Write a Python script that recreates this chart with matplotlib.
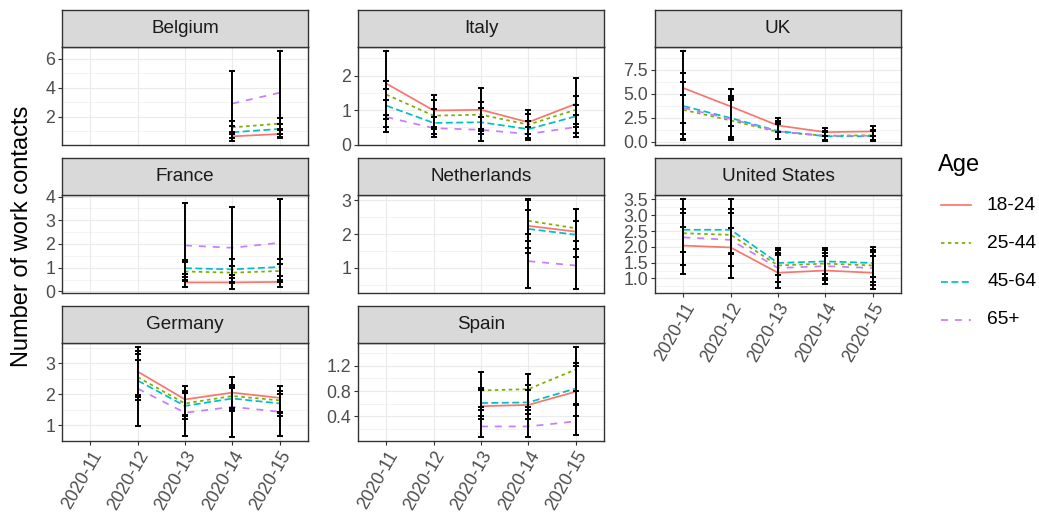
import numpy as np
import matplotlib.pyplot as plt
from matplotlib.ticker import MultipleLocator

plt.rcParams['font.family'] = ['Liberation Sans', 'DejaVu Sans']

nan = np.nan

WEEKS = ['2020-11', '2020-12', '2020-13', '2020-14', '2020-15']
AGES = ['18-24', '25-44', '45-64', '65+']

# rows: age groups, columns: weeks
belgium_mean = [[nan, nan, nan, 0.64, 0.80],
                [nan, nan, nan, 1.26, 1.52],
                [nan, nan, nan, 0.92, 1.15],
                [nan, nan, nan, 2.90, 3.65]]
belgium_lo = [[nan, nan, nan, 0.35, 0.55],
              [nan, nan, nan, 0.80, 1.15],
              [nan, nan, nan, 0.55, 0.80],
              [nan, nan, nan, 0.50, 0.60]]
belgium_hi = [[nan, nan, nan, 0.95, 1.10],
              [nan, nan, nan, 1.68, 1.90],
              [nan, nan, nan, 1.35, 1.50],
              [nan, nan, nan, 5.15, 6.50]]

italy_mean = [[1.77, 0.99, 1.01, 0.65, 1.18],
              [1.45, 0.84, 0.87, 0.58, 1.01],
              [1.13, 0.63, 0.65, 0.45, 0.82],
              [0.80, 0.48, 0.43, 0.31, 0.51]]
italy_lo = [[0.85, 0.50, 0.45, 0.30, 0.60],
            [0.75, 0.45, 0.40, 0.30, 0.50],
            [0.50, 0.30, 0.30, 0.20, 0.35],
            [0.37, 0.21, 0.12, 0.15, 0.21]]
italy_hi = [[2.70, 1.45, 1.64, 1.01, 1.93],
            [1.85, 1.30, 1.23, 0.90, 1.42],
            [1.60, 1.03, 1.05, 0.70, 1.15],
            [1.30, 0.80, 0.80, 0.50, 0.87]]

uk_mean = [[5.58, 3.66, 1.67, 0.98, 1.05],
           [3.30, 2.20, 1.00, 0.60, 0.65],
           [3.70, 2.45, 1.10, 0.55, 0.55],
           [3.50, 2.35, 1.05, 0.60, 0.60]]
uk_lo = [[1.90, 1.65, 0.95, 0.60, 0.60],
         [0.30, 0.18, 0.30, 0.15, 0.20],
         [0.18, 0.50, 0.25, 0.10, 0.10],
         [0.80, 0.30, 0.30, 0.15, 0.15]]
uk_hi = [[9.40, 5.47, 2.44, 1.40, 1.60],
         [6.20, 4.36, 1.90, 1.10, 1.15],
         [7.15, 4.70, 2.10, 1.05, 1.10],
         [4.90, 4.50, 1.80, 1.00, 1.05]]

france_mean = [[nan, nan, 0.38, 0.38, 0.40],
               [nan, nan, 0.84, 0.79, 0.86],
               [nan, nan, 0.98, 0.93, 1.03],
               [nan, nan, 1.94, 1.84, 2.05]]
france_lo = [[nan, nan, 0.17, 0.12, 0.20],
             [nan, nan, 0.50, 0.35, 0.40],
             [nan, nan, 0.45, 0.40, 0.50],
             [nan, nan, 0.60, 0.55, 0.65]]
france_hi = [[nan, nan, 0.75, 0.70, 0.65],
             [nan, nan, 1.25, 1.07, 1.14],
             [nan, nan, 1.31, 1.35, 1.35],
             [nan, nan, 3.72, 3.58, 3.88]]

netherlands_mean = [[nan, nan, nan, 2.24, 2.07],
                    [nan, nan, nan, 2.39, 2.17],
                    [nan, nan, nan, 2.15, 1.98],
                    [nan, nan, nan, 1.20, 1.07]]
netherlands_lo = [[nan, nan, nan, 1.44, 1.31],
                  [nan, nan, nan, 1.78, 1.56],
                  [nan, nan, nan, 1.60, 1.56],
                  [nan, nan, nan, 0.40, 0.39]]
netherlands_hi = [[nan, nan, nan, 3.00, 2.73],
                  [nan, nan, nan, 3.02, 2.73],
                  [nan, nan, nan, 2.71, 2.37],
                  [nan, nan, nan, 2.00, 1.80]]

us_mean = [[2.04, 1.98, 1.18, 1.25, 1.18],
           [2.43, 2.38, 1.41, 1.47, 1.41],
           [2.54, 2.54, 1.49, 1.54, 1.49],
           [2.30, 2.22, 1.33, 1.39, 1.33]]
us_lo = [[1.13, 1.00, 0.71, 0.81, 0.68],
         [1.83, 1.77, 0.88, 0.95, 0.80],
         [1.44, 1.39, 1.10, 1.15, 1.05],
         [1.85, 1.80, 0.90, 1.00, 0.90]]
us_hi = [[3.20, 3.20, 1.80, 1.70, 1.85],
         [3.06, 3.06, 1.96, 1.96, 1.99],
         [3.50, 3.50, 1.90, 1.90, 1.90],
         [2.64, 2.60, 1.75, 1.80, 1.70]]

germany_mean = [[nan, 2.73, 1.83, 2.05, 1.88],
                [nan, 2.55, 1.70, 1.94, 1.80],
                [nan, 2.44, 1.62, 1.86, 1.70],
                [nan, 2.18, 1.40, 1.59, 1.43]]
germany_lo = [[nan, 1.90, 1.32, 1.55, 1.43],
              [nan, 1.96, 1.30, 1.50, 1.40],
              [nan, 1.80, 1.20, 1.45, 1.30],
              [nan, 0.98, 0.66, 0.63, 0.66]]
germany_hi = [[nan, 3.51, 2.25, 2.57, 2.28],
              [nan, 3.30, 2.05, 2.23, 2.02],
              [nan, 3.40, 2.10, 2.30, 2.10],
              [nan, 3.09, 2.05, 2.20, 2.00]]

spain_mean = [[nan, nan, 0.56, 0.58, 0.79],
              [nan, nan, 0.81, 0.83, 1.14],
              [nan, nan, 0.61, 0.62, 0.84],
              [nan, nan, 0.24, 0.24, 0.32]]
spain_lo = [[nan, nan, 0.35, 0.35, 0.40],
            [nan, nan, 0.50, 0.55, 0.80],
            [nan, nan, 0.40, 0.44, 0.58],
            [nan, nan, 0.08, 0.08, 0.105]]
spain_hi = [[nan, nan, 0.82, 0.82, 1.20],
            [nan, nan, 1.10, 1.07, 1.49],
            [nan, nan, 0.85, 0.90, 1.25],
            [nan, nan, 0.55, 0.50, 0.60]]

COLORS = ['#F8766D', '#7CAE00', '#00BFC4', '#C77CFF']
DASHES = [None, (2.0, 2.0), (4.0, 2.0), (4.0, 4.0)]

# name, data, column, row, y breaks, break labels
panels = [
    ('Belgium', belgium_mean, belgium_lo, belgium_hi, 0, 0, [2, 4, 6], None),
    ('Italy', italy_mean, italy_lo, italy_hi, 1, 0, [0, 1, 2], None),
    ('UK', uk_mean, uk_lo, uk_hi, 2, 0, [0, 2.5, 5, 7.5], ['0.0', '2.5', '5.0', '7.5']),
    ('France', france_mean, france_lo, france_hi, 0, 1, [0, 1, 2, 3, 4], None),
    ('Netherlands', netherlands_mean, netherlands_lo, netherlands_hi, 1, 1, [1, 2, 3], None),
    ('United States', us_mean, us_lo, us_hi, 2, 1, [1, 1.5, 2, 2.5, 3, 3.5],
     ['1.0', '1.5', '2.0', '2.5', '3.0', '3.5']),
    ('Germany', germany_mean, germany_lo, germany_hi, 0, 2, [1, 2, 3], None),
    ('Spain', spain_mean, spain_lo, spain_hi, 1, 2, [0.4, 0.8, 1.2], ['0.4', '0.8', '1.2']),
]

W, H = 1039, 523
fig = plt.figure(figsize=(W / 100, H / 100), dpi=100)

col_left = [62, 358, 655]
panel_w = 246
row_top = [10, 158, 306]
strip_h = 37
panel_h = 98
border = '#333333'


def box(left, top, w, h):
    return [left / W, 1 - (top + h) / H, w / W, h / H]


x = np.arange(len(WEEKS))
for name, mean, lo, hi, c, r, ticks, labels in panels:
    left = col_left[c]
    top = row_top[r]
    ax = fig.add_axes(box(left, top + strip_h, panel_w, panel_h))
    mean = np.array(mean)
    lo = np.array(lo)
    hi = np.array(hi)
    for i in range(len(AGES)):
        line, = ax.plot(x, mean[i], color=COLORS[i], lw=1.25)
        if DASHES[i]:
            line.set_dashes(DASHES[i])
    for i in range(len(AGES)):
        ok = ~np.isnan(mean[i])
        ax.errorbar(x[ok], mean[i][ok], yerr=[mean[i][ok] - lo[i][ok], hi[i][ok] - mean[i][ok]],
                    fmt='none', ecolor='black', elinewidth=1.4, capsize=2.2, capthick=1.4)
    ymin = np.nanmin(lo)
    ymax = np.nanmax(hi)
    pad = (ymax - ymin) * 0.05
    ax.set_ylim(ymin - pad, ymax + pad)
    ax.set_xlim(-0.6, len(WEEKS) - 0.4)
    ax.set_yticks(ticks)
    if labels:
        ax.set_yticklabels(labels)
    ax.yaxis.set_minor_locator(MultipleLocator((ticks[1] - ticks[0]) / 2))
    ax.grid(True, which='major', color='#EBEBEB', lw=0.8)
    ax.grid(True, which='minor', axis='y', color='#EBEBEB', lw=0.4)
    ax.set_axisbelow(True)
    ax.tick_params(axis='y', which='minor', length=0)
    ax.tick_params(axis='both', which='major', colors=border, labelcolor='#4D4D4D',
                   labelsize=12.8, length=3, width=0.8, pad=2)
    ax.set_xticks(x)
    if r == 2 or name == 'United States':
        ax.set_xticklabels(WEEKS, rotation=60, ha='right', va='top', rotation_mode='anchor')
    else:
        ax.set_xticklabels([])
        ax.tick_params(axis='x', length=0)
    for s in ax.spines.values():
        s.set_color(border)
        s.set_linewidth(1.0)

    st = fig.add_axes(box(left, top, panel_w, strip_h))
    st.set_facecolor('#D9D9D9')
    st.set_xticks([])
    st.set_yticks([])
    for s in st.spines.values():
        s.set_color(border)
        s.set_linewidth(1.0)
    st.text(0.5, 0.5, name, ha='center', va='center', fontsize=13.6, color='#1A1A1A',
            transform=st.transAxes)

fig.text(22 / W, 1 - 236 / H, 'Number of work contacts', rotation=90, ha='center',
         va='center', fontsize=17, color='black')

# legend
fig.text(938 / W, 1 - 165 / H, 'Age', ha='left', va='center', fontsize=17)
leg_y = [205, 243, 282, 320]
for i, age in enumerate(AGES):
    yy = 1 - leg_y[i] / H
    ln, = fig.add_artist(plt.Line2D([941 / W, 971 / W], [yy, yy], color=COLORS[i], lw=1.25)),
    if DASHES[i]:
        ln.set_dashes(DASHES[i])
    fig.text(987 / W, yy, age, ha='left', va='center', fontsize=13.8)

fig.savefig('out.png', dpi=100)
